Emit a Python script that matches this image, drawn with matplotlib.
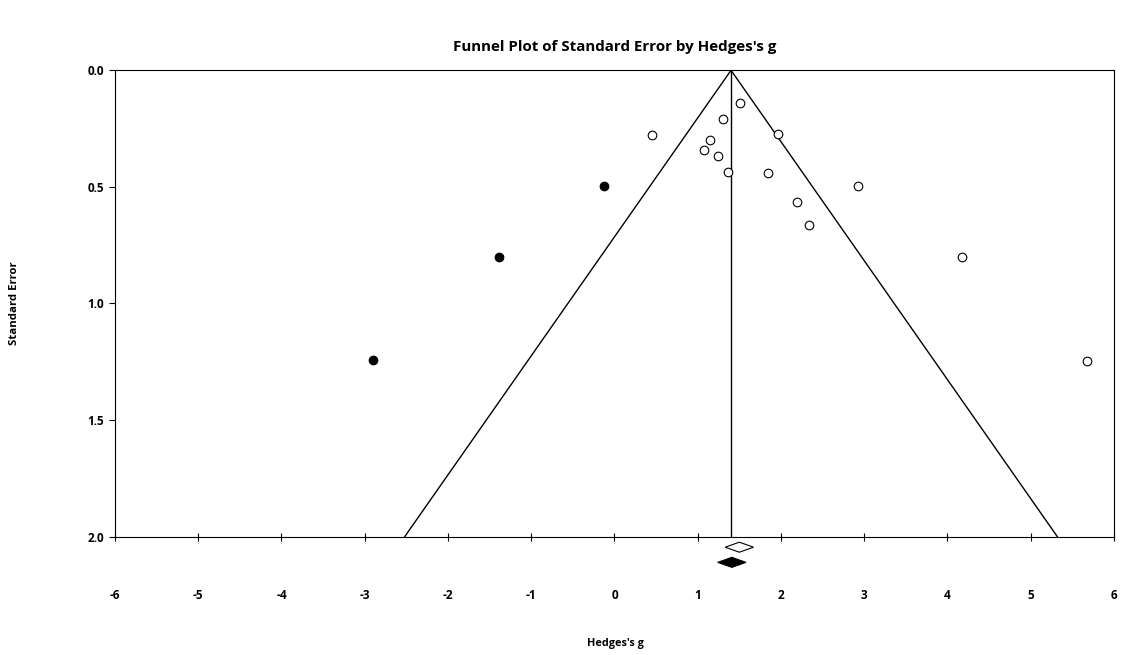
import numpy as np
import matplotlib
matplotlib.use("Agg")
import matplotlib.pyplot as plt

# observed studies
g_obs = [1.51, 1.30, 0.45, 1.96, 1.15, 1.07, 1.24, 1.36, 1.84, 2.93, 2.19, 2.34, 4.17, 5.68]
se_obs = [0.142, 0.210, 0.277, 0.275, 0.299, 0.342, 0.366, 0.436, 0.442, 0.495, 0.566, 0.662, 0.80, 1.246]

# imputed studies (trim and fill)
g_imp = [-0.13, -1.39, -2.90]
se_imp = [0.495, 0.80, 1.244]

center = 1.40
obs_est = 1.50
adj_est = 1.41
diamond_half = 0.17

plt.rcParams["font.family"] = ["Open Sans", "DejaVu Sans"]
plt.rcParams["axes.unicode_minus"] = False

fig = plt.figure(figsize=(11.25, 6.55), dpi=100)
ax = fig.add_axes([0.1022, 0.1806, 0.888, 0.7121])

# funnel
se_line = np.array([0.0, 2.0])
ax.plot(center - 1.96 * se_line, se_line, color="black", lw=1)
ax.plot(center + 1.96 * se_line, se_line, color="black", lw=1)
ax.plot([center, center], [0, 2], color="black", lw=1)

ax.plot(g_obs, se_obs, "o", mfc="white", mec="black", ms=6.2, mew=0.8, zorder=3)
ax.plot(g_imp, se_imp, "o", mfc="black", mec="black", ms=6.2, mew=0.8, zorder=3)

# summary diamonds below axis
dh = 0.0215
ax.fill([obs_est - diamond_half, obs_est, obs_est + diamond_half, obs_est],
        [2.045, 2.045 - dh, 2.045, 2.045 + dh], facecolor="white", edgecolor="black",
        lw=0.8, clip_on=False)
ax.fill([adj_est - diamond_half, adj_est, adj_est + diamond_half, adj_est],
        [2.11, 2.11 - dh, 2.11, 2.11 + dh], facecolor="black", edgecolor="black",
        lw=0.8, clip_on=False)

ax.set_xlim(-6, 6)
ax.set_ylim(2.0, 0.0)
ax.set_xticks(np.arange(-6, 7, 1))
ax.set_yticks([0.0, 0.5, 1.0, 1.5, 2.0])
ax.set_yticklabels(["0.0", "0.5", "1.0", "1.5", "2.0"])
ax.tick_params(axis="x", direction="inout", length=6, width=0.8, pad=35, labelsize=8.5)
ax.tick_params(axis="y", direction="out", length=4, width=0.8, pad=4, labelsize=8.5)
for lab in ax.get_xticklabels() + ax.get_yticklabels():
    lab.set_fontweight("bold")
for sp in ax.spines.values():
    sp.set_linewidth(0.8)

fig.text(0.5467, 0.929, "Funnel Plot of Standard Error by Hedges's g", ha="center", va="center",
         fontsize=10.9, fontweight="bold")
fig.text(0.5467, 0.018, "Hedges's g", ha="center", va="center", fontsize=7.8, fontweight="bold")
fig.text(0.0133, 0.537, "Standard Error", ha="center", va="center", rotation=90,
         fontsize=8.2, fontweight="bold")

fig.savefig("out.png", dpi=100)
